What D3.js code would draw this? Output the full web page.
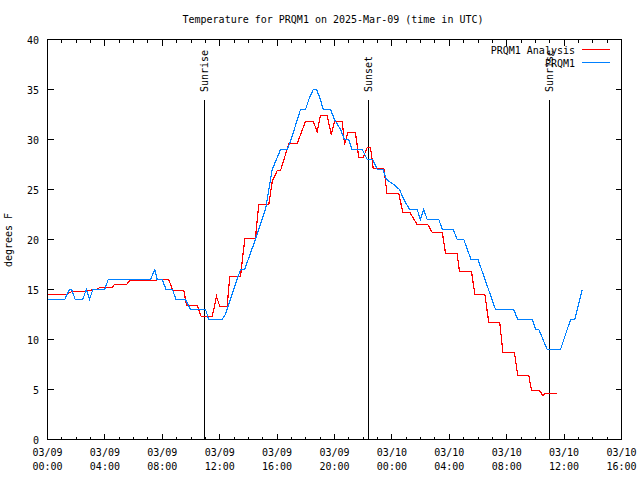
<!DOCTYPE html>
<html><head><meta charset="utf-8">
<script src="https://cdn.jsdelivr.net/npm/d3@7"></script>
<style>
body{margin:0;background:#fff}
text{font-family:"DejaVu Sans Mono","Liberation Mono",monospace;font-size:10px;fill:#000}
</style>
</head><body>
<svg id="chart" width="640" height="480"></svg>
<script>
// ---- data (hours since 2025-03-09 00:00 UTC, temperature °F) ----
const analysisHours = [0,1.32,1.69,2.53,2.72,3.46,3.64,4.51,4.67,5.51,5.74,7.55,7.69,8.45,8.73,9.50,9.69,10.43,10.71,11.48,11.78,12.01,12.52,12.70,13.45,13.75,14.49,14.72,15.42,15.66,16.01,16.24,16.82,17.40,17.98,18.52,18.79,19.02,19.49,19.77,20.0,20.54,20.70,20.93,21.46,21.69,22.0,22.28,22.51,22.70,23.44,23.66,24.48,24.76,25.25,25.76,26.50,26.81,27.51,27.74,28.54,28.71,29.55,29.78,30.48,30.75,31.52,31.73,32.54,32.77,33.54,33.73,34.29,34.52,34.70,35.52];
const analysisTemps = [14.5,14.5,14.8,14.8,14.9,15.0,15.2,15.2,15.5,15.5,15.9,15.9,16.0,16.0,14.9,14.9,13.4,13.4,12.3,12.3,14.3,13.3,13.3,16.3,16.3,20.1,20.1,23.5,23.5,25.8,26.9,26.9,29.6,29.6,31.8,31.8,30.8,32.4,32.4,30.5,31.8,31.8,29.5,30.7,30.7,28.2,28.2,29.2,29.2,27.1,27.1,24.6,24.6,22.7,22.7,21.5,21.5,20.7,20.7,18.6,18.6,16.8,16.8,14.5,14.5,11.7,11.7,8.7,8.7,6.4,6.4,4.9,4.9,4.4,4.6,4.6];
const obsHours = [0,1.2,1.53,1.69,1.93,2.46,2.70,2.93,3.16,3.99,4.23,7.18,7.48,7.64,7.99,8.26,8.71,8.95,9.62,9.97,11.01,11.24,12.17,12.40,13.45,13.73,14.49,15.19,15.66,16.24,16.70,16.93,17.63,17.98,18.21,18.52,18.75,19.02,19.21,19.72,20.0,20.42,20.70,20.98,21.23,21.93,22.28,22.67,22.98,23.39,23.62,24.13,24.53,24.83,25.23,25.76,25.99,26.22,26.46,27.27,27.51,28.27,28.55,29.01,29.51,30.0,31.22,32.49,32.77,33.78,34.01,34.24,34.82,35.75,36.45,36.75,37.26];
const obsTemps = [14,14,15,15,14,14,15,14,15,15,16,16,17,16,16,15,15,14,14,13,13,12,12,12.5,17,17,20,23,27,29,29,29.8,33,33,34,35,35,34,33,33,32,31,30,30,29,29,28,28,27,27,26,25.5,25,24,23,23,22,23,22,22,21,21,20,20,18,18,13,13,12,12,11,11,9,9,12,12,15];
const seriesNames = ["PRQM1 Analysis","PRQM1"];
const seriesColors = ["#ff0000","#0080ff"];
const sunHours = [10.94,22.37,34.98];
const sunLabels = ["Sunrise","Sunset","Sunrise"];
const yTicks = [0,5,10,15,20,25,30,35,40];
const xMajorHours = [0,4,8,12,16,20,24,28,32,36,40];
const xTickDates = ["03/09","03/09","03/09","03/09","03/09","03/09","03/10","03/10","03/10","03/10","03/10"];
const xTickTimes = ["00:00","04:00","08:00","12:00","16:00","20:00","00:00","04:00","08:00","12:00","16:00"];
const titleText = "Temperature for PRQM1 on 2025-Mar-09 (time in UTC)";
const yLabel = "degrees F";

// ---- drawing ----
const svg = d3.select("#chart");
const L = 47.5, R = 621.5, T = 39.5, B = 439.5;
const x = d3.scaleLinear().domain([0,40]).range([L,R]);
const y = d3.scaleLinear().domain([0,40]).range([B,T]);
const px = v => Math.round(x(v) - 0.5) + 0.5;
const py = v => Math.round(y(v) - 0.5) + 0.5;

svg.append("rect").attr("width",640).attr("height",480).attr("fill","#fff");

// title
svg.append("text").attr("x",333).attr("y",23).attr("text-anchor","middle").text(titleText);
// y label
svg.append("text").attr("transform","translate(12,240) rotate(-90)").attr("text-anchor","middle").text(yLabel);

const g = svg.append("g").attr("shape-rendering","crispEdges").attr("stroke","#000").attr("stroke-width",1);

// y ticks (both sides)
yTicks.forEach(v=>{
  g.append("line").attr("x1",L).attr("x2",L+6).attr("y1",py(v)).attr("y2",py(v));
  g.append("line").attr("x1",R-6).attr("x2",R).attr("y1",py(v)).attr("y2",py(v));
});
svg.selectAll(".ylab").data(yTicks).enter().append("text")
  .attr("x",39).attr("y",v=>y(v)+4).attr("text-anchor","end").text(d=>d);

// x ticks: minor every hour, major every 4
d3.range(0,41).forEach(h=>{
  const len = (h%4===0)?6:3;
  g.append("line").attr("x1",px(h)).attr("x2",px(h)).attr("y1",B).attr("y2",B-len);
  g.append("line").attr("x1",px(h)).attr("x2",px(h)).attr("y1",T).attr("y2",T+len);
});
xMajorHours.forEach((h,i)=>{
  svg.append("text").attr("x",x(h)).attr("y",456).attr("text-anchor","middle").text(xTickDates[i]);
  svg.append("text").attr("x",x(h)).attr("y",470).attr("text-anchor","middle").text(xTickTimes[i]);
});

// frame
g.append("rect").attr("x",L).attr("y",T).attr("width",R-L).attr("height",B-T).attr("fill","none");

// sun lines
sunHours.forEach((h,i)=>{
  g.append("line").attr("x1",px(h)).attr("x2",px(h)).attr("y1",99.5).attr("y2",B);
  svg.append("text").attr("transform",`translate(${x(h)+3.5},92) rotate(-90)`)
    .attr("text-anchor","start").text(sunLabels[i]);
});

// series
const line = d3.line().x(d=>x(d[0])).y(d=>y(d[1]));
const series = [
  d3.zip(analysisHours, analysisTemps),
  d3.zip(obsHours, obsTemps)
];
series.forEach((s,i)=>{
  svg.append("path").datum(s).attr("d",line).attr("fill","none")
    .attr("stroke",seriesColors[i]).attr("stroke-width",1.2).attr("shape-rendering","crispEdges");
});

// legend
seriesNames.forEach((n,i)=>{
  const ly = 49.5 + i*13;
  svg.append("text").attr("x",575).attr("y",ly+4).attr("text-anchor","end").text(n);
  svg.append("line").attr("x1",582).attr("x2",610).attr("y1",ly).attr("y2",ly)
    .attr("stroke",seriesColors[i]).attr("stroke-width",1).attr("shape-rendering","crispEdges");
});
</script>
</body></html>
